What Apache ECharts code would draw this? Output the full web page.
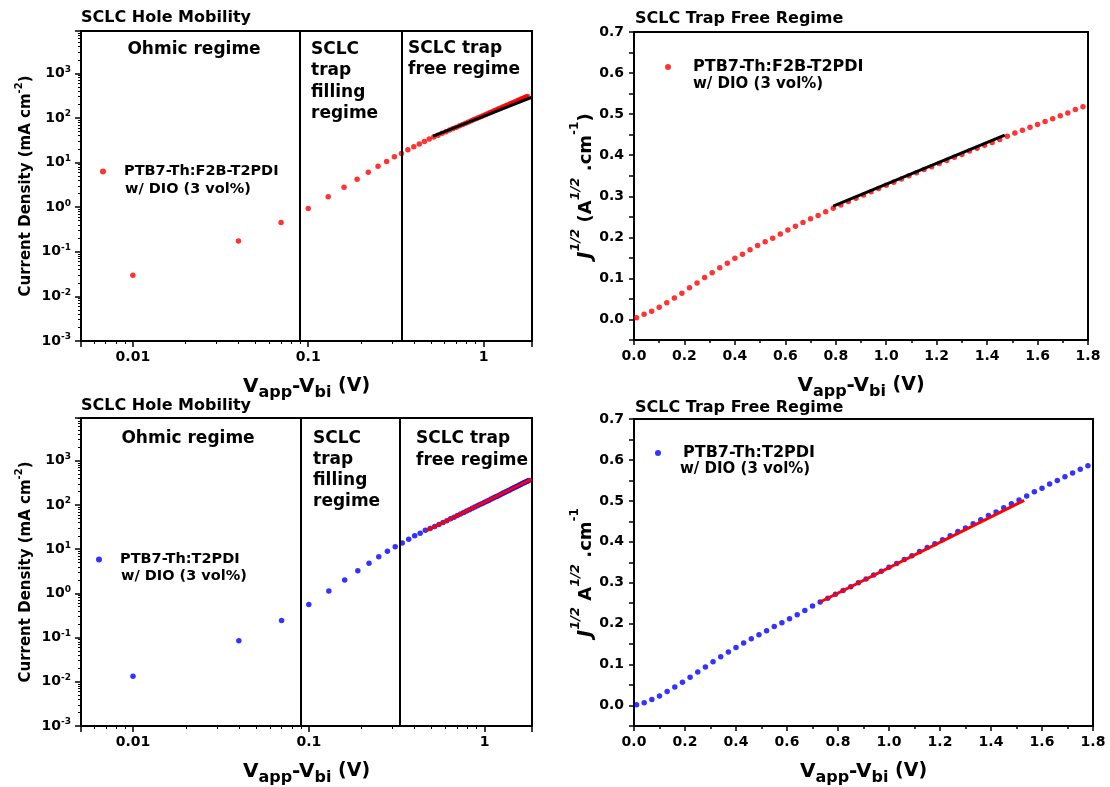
<!DOCTYPE html>
<html>
<head>
<meta charset="utf-8">
<script src="https://cdn.jsdelivr.net/npm/echarts@6/dist/echarts.min.js"></script>
<style>html,body{margin:0;background:#fff}#chart{width:1110px;height:787px}</style>
</head>
<body>
<div id="chart"></div>
<script>
"use strict";

// applied voltage V_app - V_bi (V), shared by all four panels
const voltage = [0.01, 0.04, 0.07, 0.10, 0.13, 0.16, 0.19, 0.22, 0.25, 0.28, 0.31, 0.34, 0.37, 0.40, 0.43, 0.46, 0.49, 0.52, 0.55, 0.58,
  0.61, 0.64, 0.67, 0.70, 0.73, 0.76, 0.79, 0.82, 0.85, 0.88, 0.91, 0.94, 0.97, 1.00, 1.03, 1.06, 1.09, 1.12, 1.15, 1.18,
  1.21, 1.24, 1.27, 1.30, 1.33, 1.36, 1.39, 1.42, 1.45, 1.48, 1.51, 1.54, 1.57, 1.60, 1.63, 1.66, 1.69, 1.72, 1.75, 1.78];

// current density, mA cm^-2
const jF2B = [0.0297, 0.175, 0.452, 0.935, 1.71, 2.81, 4.25, 6.1, 8.3, 10.6, 13.5, 16.0, 19.4, 22.6, 26.0, 29.8, 33.7,
  37.3, 41.2, 45.2, 49.2, 53.4, 57.8, 62.3, 67.0, 71.7, 76.5, 81.5, 86.6, 91.8, 97.2, 103, 108, 114, 120, 126, 132, 138,
  145, 151, 158, 164, 171, 178, 185, 192, 199, 207, 214, 222, 229, 237, 245, 253, 261, 269, 278, 286, 295, 303];
const jT2PDI = [0.0134, 0.0845, 0.244, 0.563, 1.13, 2.0, 3.27, 4.79, 6.78, 8.95, 11.4, 13.8, 16.8, 20.0, 22.9, 26.8,
  29.5, 32.5, 36.2, 40.0, 44.2, 48.5, 53.0, 57.6, 62.5, 67.5, 72.8, 78.2, 83.8, 89.6, 95.6, 102, 108, 115, 121, 128, 136,
  143, 151, 158, 166, 175, 183, 192, 201, 210, 219, 229, 238, 248, 258, 269, 279, 290, 301, 312, 323, 335, 346, 358];

// J^1/2, A^1/2 cm^-1
const sqrtF2B = [0.004, 0.013, 0.020, 0.030, 0.041, 0.052, 0.064, 0.077, 0.089, 0.102, 0.114, 0.126, 0.137, 0.149, 0.159,
  0.170, 0.180, 0.189, 0.198, 0.208, 0.218, 0.227, 0.236, 0.245, 0.253, 0.262, 0.271, 0.279, 0.287, 0.295, 0.303, 0.311,
  0.319, 0.327, 0.334, 0.342, 0.350, 0.357, 0.365, 0.372, 0.380, 0.387, 0.395, 0.402, 0.410, 0.417, 0.424, 0.431, 0.438,
  0.446, 0.454, 0.461, 0.468, 0.475, 0.482, 0.489, 0.496, 0.503, 0.511, 0.518];
const sqrtT2PDI = [0.002, 0.007, 0.015, 0.023, 0.034, 0.045, 0.057, 0.069, 0.082, 0.094, 0.107, 0.119, 0.131, 0.142, 0.153,
  0.163, 0.173, 0.183, 0.193, 0.202, 0.212, 0.222, 0.232, 0.243, 0.253, 0.262, 0.272, 0.281, 0.290, 0.300, 0.309, 0.319,
  0.328, 0.338, 0.347, 0.357, 0.366, 0.376, 0.386, 0.395, 0.405, 0.415, 0.425, 0.434, 0.444, 0.454, 0.464, 0.473, 0.483,
  0.493, 0.502, 0.512, 0.522, 0.531, 0.541, 0.550, 0.559, 0.568, 0.577, 0.586];

// fitted lines, end points
const fitJF2B = [[0.515, 39.2], [1.88, 288]];
const fitSqrtF2B = [[0.79, 0.276], [1.47, 0.449]];
const fitJT2PDI = [[0.467, 26.3], [1.85, 384]];
const fitSqrtT2PDI = [[0.73, 0.253], [1.53, 0.501]];

// regime boundaries (V)
const boundsF2B = [0.0869, 0.336];
const boundsT2PDI = [0.0861, 0.333];

// log axis minor ticks
const minorX = [0.006, 0.007, 0.008, 0.009, 0.02, 0.03, 0.04, 0.05, 0.06, 0.07, 0.08, 0.09, 0.2, 0.3, 0.4, 0.5, 0.6, 0.7, 0.8, 0.9];
const minorY = [];
[0.001, 0.01, 0.1, 1, 10, 100, 1000].forEach((d) => [2, 3, 4, 5, 6, 7, 8, 9].forEach((m) => minorY.push(+(d * m).toPrecision(2))));

const nameF2B = "PTB7-Th:F2B-T2PDI";
const nameT2PDI = "PTB7-Th:T2PDI";

const font = "DejaVu Sans";
const black = "#000";
const red = "#ff0000";
const blue = "#0000ff";

const label = { color: black, fontFamily: font, fontWeight: "bold", fontSize: 14 };
const line = { onZero: false, lineStyle: { color: black, width: 2 } };
const none = { show: false };

const xName = "{v|V}{s|app}{v|-V}{s|bi}{u| (V)}";
const xNameStyle = {
  color: black, fontFamily: font, fontWeight: "bold",
  rich: {
    v: { fontSize: 20, fontFamily: font, fontWeight: "bold", color: black, lineHeight: 24, verticalAlign: "top" },
    s: { fontSize: 16, fontFamily: font, fontWeight: "bold", color: black, lineHeight: 14, verticalAlign: "bottom" },
    u: { fontSize: 19, fontFamily: font, fontWeight: "bold", color: black, lineHeight: 20, verticalAlign: "top" },
  },
};
const jNameStyle = {
  color: black, fontFamily: font, fontWeight: "bold",
  rich: {
    j: { fontSize: 19, fontStyle: "italic", fontFamily: font, fontWeight: "bold", color: black, lineHeight: 26, verticalAlign: "bottom" },
    h: { fontSize: 13, fontStyle: "italic", fontFamily: font, fontWeight: "bold", color: black, lineHeight: 13, verticalAlign: "top" },
    a: { fontSize: 18, fontFamily: font, fontWeight: "bold", color: black, lineHeight: 26, verticalAlign: "bottom" },
    p: { fontSize: 12, fontFamily: font, fontWeight: "bold", color: black, lineHeight: 12, verticalAlign: "top" },
  },
};
const densityNameStyle = {
  color: black, fontFamily: font, fontWeight: "bold",
  rich: {
    a: { fontSize: 15, fontFamily: font, fontWeight: "bold", color: black, lineHeight: 20, verticalAlign: "bottom" },
    p: { fontSize: 10, fontFamily: font, fontWeight: "bold", color: black, lineHeight: 10, verticalAlign: "top" },
  },
};

function decade(v) {
  const e = Math.log10(v);
  return Math.abs(e - Math.round(e)) < 1e-6;
}

function logAxes(gridIndex, min, max, isX) {
  const minor = (isX ? minorX : minorY).filter((v) => v >= min && v <= max).map(Math.log10);
  const main = {
    type: "log", gridIndex, min, max, axisLine: line, splitLine: none,
    axisTick: { length: 6, lineStyle: { color: black, width: 1.5 } },
    axisLabel: isX
      ? { ...label, margin: 9, formatter: (v) => decade(v) ? String(+v.toPrecision(1)) : "" }
      : { ...label, margin: 10, formatter: (v) => decade(v) ? "10{s|" + Math.round(Math.log10(v)) + "}" : "",
          rich: { s: { fontSize: 9, fontFamily: font, fontWeight: "bold", color: black, verticalAlign: "top", padding: [0, 0, 8, 0] } } },
  };
  const overlay = {
    type: "value", gridIndex, position: isX ? "bottom" : "left", min: Math.log10(min), max: Math.log10(max),
    axisLine: { show: false, onZero: false }, axisLabel: none, splitLine: none,
    axisTick: { customValues: minor, length: 3, lineStyle: { color: black, width: 1 } },
  };
  return [main, overlay];
}

function linearX(gridIndex) {
  return {
    type: "value", gridIndex, min: 0, max: 1.8, interval: 0.2, axisLine: line, splitLine: none,
    axisTick: { length: 5, lineStyle: { color: black, width: 1.5 } },
    minorTick: { show: true, splitNumber: 2, length: 3, lineStyle: { color: black, width: 1.5 } },
    axisLabel: { ...label, margin: 9, formatter: (v) => v.toFixed(1) },
    name: xName, nameLocation: "middle", nameGap: 36, nameTextStyle: xNameStyle,
  };
}

function linearY(gridIndex, name, gap) {
  return {
    type: "value", gridIndex, min: -0.05, max: 0.7, interval: 0.05, axisLine: line, splitLine: none,
    axisTick: { length: 5, lineStyle: { color: black, width: 1.5 } },
    axisLabel: { ...label, margin: 10, formatter: (v) => Math.round(v * 20) % 2 === 0 ? v.toFixed(1) : "" },
    name, nameLocation: "middle", nameRotate: 90, nameGap: gap, nameTextStyle: jNameStyle,
  };
}

const [tlX, tlXm] = logAxes(0, 0.00506, 1.888, true);
const [tlY, tlYm] = logAxes(0, 0.001, 8900, false);
const [blX, blXm] = logAxes(2, 0.00506, 1.86, true);
const [blY, blYm] = logAxes(2, 0.001, 9270, false);
[tlX, blX].forEach((a) => Object.assign(a, { name: xName, nameLocation: "middle", nameGap: 36, nameTextStyle: xNameStyle }));
[tlY, blY].forEach((a) => Object.assign(a, {
  name: "{a|Current Density (mA cm}{p|-2}{a|)}", nameLocation: "middle", nameRotate: 90, nameGap: 47, nameTextStyle: densityNameStyle,
}));

const xAxis = [tlX, tlXm, linearX(1), blX, blXm, linearX(3)];
const yAxis = [
  tlY, tlYm, linearY(1, "{j|J}{h|1/2}{a| (A}{h|1/2}{a| .cm}{p|-1}{a|)}", 26),
  blY, blYm, linearY(3, "{j|J}{h|1/2}{a| A}{h|1/2}{a| .cm}{p|-1}", 32),
];

function dots(name, xi, values, color, bounds) {
  const s = {
    name, type: "scatter", xAxisIndex: xi, yAxisIndex: xi, symbolSize: 5.5, z: 3,
    data: voltage.map((v, i) => [v, values[i]]), itemStyle: { color },
  };
  if (bounds) s.markLine = {
    silent: true, symbol: ["none", "none"], label: { show: false },
    lineStyle: { color: black, width: 2, type: "solid" }, data: bounds.map((b) => ({ xAxis: b })),
  };
  return s;
}

function fit(xi, data, color) {
  return { name: "fit", type: "line", xAxisIndex: xi, yAxisIndex: xi, data, showSymbol: false, z: 4, lineStyle: { color, width: 3 } };
}

const series = [
  dots(nameF2B, 0, jF2B, red, boundsF2B), fit(0, fitJF2B, black),
  dots(nameF2B, 2, sqrtF2B, red), fit(2, fitSqrtF2B, black),
  dots(nameT2PDI, 3, jT2PDI, blue, boundsT2PDI), fit(3, fitJT2PDI, red),
  dots(nameT2PDI, 5, sqrtT2PDI, blue), fit(5, fitSqrtT2PDI, red),
];

const gridBox = { show: true, borderColor: black, borderWidth: 2, containLabel: false };
const grid = [
  { ...gridBox, left: 81, top: 31, width: 451, height: 310 },
  { ...gridBox, left: 634, top: 32, width: 454, height: 308 },
  { ...gridBox, left: 81, top: 418, width: 451, height: 308 },
  { ...gridBox, left: 634, top: 419, width: 459, height: 308 },
];

const titleText = { color: black, fontFamily: font, fontWeight: "bold", fontSize: 16 };
const title = [
  { text: "SCLC Hole Mobility", left: 81, top: 10, padding: 0, textStyle: titleText },
  { text: "SCLC Trap Free Regime", left: 635, top: 11, padding: 0, textStyle: titleText },
  { text: "SCLC Hole Mobility", left: 81, top: 398, padding: 0, textStyle: titleText },
  { text: "SCLC Trap Free Regime", left: 635, top: 400, padding: 0, textStyle: titleText },
];

const legendBase = { orient: "vertical", padding: 0, icon: "circle", itemHeight: 6, selectedMode: false };
const legend = [
  { ...legendBase, data: [nameF2B], left: 100, top: 164, itemWidth: 32, textStyle: { ...label, fontSize: 14.5 } },
  { ...legendBase, data: [nameF2B], left: 665, top: 59, itemWidth: 40, textStyle: { ...label, fontSize: 16 } },
  { ...legendBase, data: [nameT2PDI], left: 96, top: 552, itemWidth: 32, textStyle: { ...label, fontSize: 14.5 } },
  { ...legendBase, data: [nameT2PDI], left: 655, top: 445, itemWidth: 40, textStyle: { ...label, fontSize: 16 } },
];

function text(str, x, y, opts) {
  return {
    type: "text", x, y, silent: true,
    style: { text: str, fill: black, font: "bold " + (opts.size || 17) + "px '" + font + "'", align: opts.align || "left",
      verticalAlign: opts.valign || "middle", lineHeight: opts.lh || 21.5 },
  };
}

const graphic = [
  text("Ohmic regime", 194, 50, { align: "center" }),
  text("SCLC\ntrap\nfilling\nregime", 311, 38.5, { valign: "top" }),
  text("SCLC trap\nfree regime", 408, 38.5, { valign: "top", lh: 21 }),
  text("Ohmic regime", 188, 439, { align: "center" }),
  text("SCLC\ntrap\nfilling\nregime", 313, 427.5, { valign: "top", lh: 21.3 }),
  text("SCLC trap\nfree regime", 416, 428, { valign: "top", lh: 22 }),
  text("w/ DIO (3 vol%)", 125, 189, { size: 14.5 }),
  text("w/ DIO (3 vol%)", 693, 84, { size: 15 }),
  text("w/ DIO (3 vol%)", 121, 576, { size: 14.5 }),
  text("w/ DIO (3 vol%)", 680, 469, { size: 15 }),
];

const chart = echarts.init(document.getElementById("chart"), null, { renderer: "canvas" });
chart.setOption({
  animation: false,
  backgroundColor: "#fff",
  textStyle: { fontFamily: font },
  title, legend, grid, xAxis, yAxis, series, graphic,
});
</script>
</body>
</html>
